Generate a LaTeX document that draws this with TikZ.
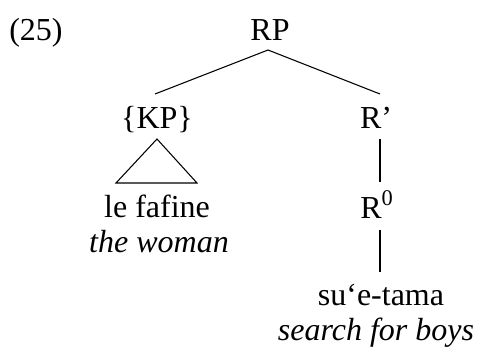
\documentclass[tikz,border=0pt]{standalone}
\usepackage{fontspec}
\setmainfont{Liberation Serif}
\begin{document}
\begin{tikzpicture}[x=0.75pt,y=-0.75pt,
  lbl/.style={anchor=base,inner sep=0pt,font=\fontsize{24}{28}\selectfont},
  edge/.style={line width=0.8pt}]
\useasboundingbox (0,0) rectangle (479,350);
\node[lbl,anchor=base west] (ex) at (9,40) {(25)};
\node[lbl] (rp) at (270,40) {RP};
\node[lbl] (kp) at (157,128) {\{KP\}};
\node[lbl] (rbar) at (376,128) {R’};
\node[lbl] (r0) at (377,218) {R\textsuperscript{0}};
\node[lbl] (lef) at (157,217) {le fafine};
\node[lbl] (woman) at (159,252) {\itshape the woman};
\node[lbl] (sue) at (381,305) {su‘e-tama};
\node[lbl] (boys) at (376,340) {\itshape search for boys};
\coordinate (rpb) at (268,50);
\coordinate (kpt) at (155,94);
\coordinate (rbt) at (380,94);
\coordinate (tria) at (157,139);
\coordinate (tril) at (116,183);
\coordinate (trir) at (197,183);
\coordinate (rbb) at (380,139);
\coordinate (r0t) at (380,182);
\coordinate (r0b) at (380,230);
\coordinate (suet) at (380,272);
\draw[edge] (kpt) -- (rpb) -- (rbt);
\draw[edge] (tria) -- (tril) -- (trir) -- cycle;
\draw[edge] (rbb) -- (r0t);
\draw[edge] (r0b) -- (suet);
\end{tikzpicture}
\end{document}
